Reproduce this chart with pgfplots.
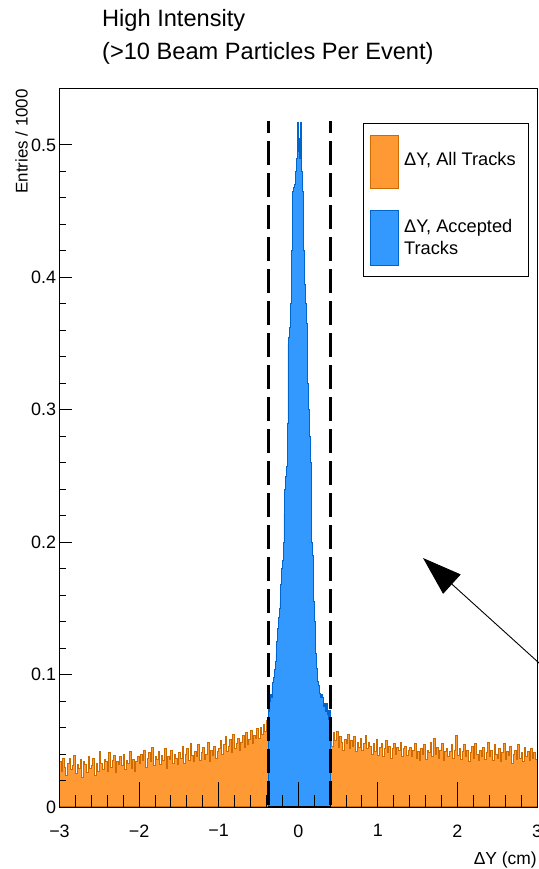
\documentclass[border=0pt]{standalone}
\usepackage{fontspec}
\setmainfont{Liberation Sans}
\usepackage{pgfplots}
\pgfplotsset{compat=1.18}
\usetikzlibrary{arrows.meta}
\definecolor{orfill}{RGB}{255,153,51}
\definecolor{orline}{RGB}{204,108,0}
\definecolor{blfill}{RGB}{51,153,255}
\definecolor{blline}{RGB}{0,102,204}
\pgfplotsset{common/.style={
  at={(59.5bp,62bp)}, anchor=south west,
  scale only axis, width=477.5bp, height=719bp,
  xmin=-3, xmax=3, ymin=0, ymax=0.543,
  tick align=inside,
  every tick/.style={black, line width=0.9bp},
  ticklabel style={font=\fontsize{18}{20}\selectfont},
  axis line style={line width=0.8bp},
}}
\begin{document}
\begin{tikzpicture}
\useasboundingbox (0,0) rectangle (539bp,869bp);
\begin{axis}[common,
  axis on top, clip=false,
  xtick pos=bottom, ytick=\empty,
  xtick={-3,-2,-1,0,1,2,3},
  xticklabels={−3,−2,−1,0,1,2,3},
  xticklabel style={yshift=-14bp},
  minor x tick num=4,
  major tick length=25bp, minor tick length=12bp,
]
\addplot[const plot, fill=orfill, draw=orline, line width=1bp] table {
-3.00 0.034
-2.98 0.027
-2.96 0.037
-2.94 0.030
-2.92 0.024
-2.90 0.033
-2.88 0.037
-2.86 0.028
-2.84 0.031
-2.82 0.039
-2.80 0.025
-2.78 0.032
-2.76 0.029
-2.74 0.036
-2.72 0.022
-2.70 0.034
-2.68 0.032
-2.66 0.026
-2.64 0.038
-2.62 0.029
-2.60 0.031
-2.58 0.037
-2.56 0.024
-2.54 0.033
-2.52 0.027
-2.50 0.042
-2.48 0.033
-2.46 0.028
-2.44 0.036
-2.42 0.034
-2.40 0.027
-2.38 0.041
-2.36 0.030
-2.34 0.035
-2.32 0.039
-2.30 0.026
-2.28 0.034
-2.26 0.032
-2.24 0.038
-2.22 0.031
-2.20 0.040
-2.18 0.028
-2.16 0.035
-2.14 0.033
-2.12 0.042
-2.10 0.029
-2.08 0.036
-2.06 0.027
-2.04 0.034
-2.02 0.038
-2.00 0.033
-1.98 0.040
-1.96 0.035
-1.94 0.043
-1.92 0.030
-1.90 0.037
-1.88 0.041
-1.86 0.034
-1.84 0.045
-1.82 0.031
-1.80 0.038
-1.78 0.036
-1.76 0.042
-1.74 0.032
-1.72 0.039
-1.70 0.035
-1.68 0.044
-1.66 0.029
-1.64 0.038
-1.62 0.036
-1.60 0.043
-1.58 0.033
-1.56 0.040
-1.54 0.037
-1.52 0.032
-1.50 0.041
-1.48 0.037
-1.46 0.046
-1.44 0.033
-1.42 0.040
-1.40 0.044
-1.38 0.035
-1.36 0.048
-1.34 0.039
-1.32 0.034
-1.30 0.042
-1.28 0.038
-1.26 0.047
-1.24 0.035
-1.22 0.041
-1.20 0.045
-1.18 0.036
-1.16 0.040
-1.14 0.049
-1.12 0.034
-1.10 0.043
-1.08 0.039
-1.06 0.046
-1.04 0.037
-1.02 0.042
-1.00 0.044
-0.98 0.050
-0.96 0.040
-0.94 0.047
-0.92 0.053
-0.90 0.042
-0.88 0.046
-0.86 0.051
-0.84 0.041
-0.82 0.055
-0.80 0.044
-0.78 0.048
-0.76 0.052
-0.74 0.043
-0.72 0.049
-0.70 0.054
-0.68 0.045
-0.66 0.056
-0.64 0.047
-0.62 0.051
-0.60 0.058
-0.58 0.048
-0.56 0.054
-0.54 0.052
-0.52 0.059
-0.50 0.052
-0.48 0.060
-0.46 0.055
-0.44 0.062
-0.42 0.057
-0.40 0.065
-0.38 0.065
} \closedcycle;
\addplot[const plot, fill=orfill, draw=orline, line width=1bp] table {
0.40 0.053
0.42 0.046
0.44 0.056
0.46 0.050
0.48 0.057
0.50 0.045
0.52 0.053
0.54 0.049
0.56 0.043
0.58 0.051
0.60 0.048
0.62 0.055
0.64 0.044
0.66 0.050
0.68 0.046
0.70 0.053
0.72 0.042
0.74 0.049
0.76 0.045
0.78 0.052
0.80 0.043
0.82 0.048
0.84 0.054
0.86 0.044
0.88 0.049
0.90 0.046
0.92 0.040
0.94 0.048
0.96 0.042
0.98 0.051
1.00 0.039
1.02 0.045
1.04 0.048
1.06 0.038
1.08 0.044
1.10 0.050
1.12 0.041
1.14 0.046
1.16 0.037
1.18 0.044
1.20 0.048
1.22 0.040
1.24 0.045
1.26 0.043
1.28 0.049
1.30 0.038
1.32 0.044
1.34 0.046
1.36 0.039
1.38 0.043
1.40 0.045
1.42 0.038
1.44 0.043
1.46 0.048
1.48 0.037
1.50 0.042
1.52 0.035
1.54 0.044
1.56 0.040
1.58 0.047
1.60 0.036
1.62 0.043
1.64 0.041
1.66 0.049
1.68 0.038
1.70 0.052
1.72 0.040
1.74 0.045
1.76 0.037
1.78 0.043
1.80 0.048
1.82 0.035
1.84 0.042
1.86 0.044
1.88 0.038
1.90 0.042
1.92 0.047
1.94 0.037
1.96 0.043
1.98 0.054
2.00 0.039
2.02 0.044
2.04 0.036
2.06 0.042
2.08 0.047
2.10 0.038
2.12 0.043
2.14 0.034
2.16 0.041
2.18 0.046
2.20 0.037
2.22 0.048
2.24 0.040
2.26 0.035
2.28 0.043
2.30 0.038
2.32 0.045
2.34 0.036
2.36 0.041
2.38 0.049
2.40 0.038
2.42 0.043
2.44 0.035
2.46 0.047
2.48 0.040
2.50 0.037
2.52 0.044
2.54 0.034
2.56 0.041
2.58 0.048
2.60 0.036
2.62 0.042
2.64 0.039
2.66 0.046
2.68 0.033
2.70 0.040
2.72 0.043
2.74 0.036
2.76 0.047
2.78 0.037
2.80 0.041
2.82 0.034
2.84 0.045
2.86 0.038
2.88 0.042
2.90 0.035
2.92 0.044
2.94 0.037
2.96 0.041
2.98 0.036
3.00 0.036
} \closedcycle;
\addplot[const plot, fill=blfill, draw=blline, line width=0.8bp] table {
-0.38 0.078
-0.37 0.072
-0.36 0.080
-0.35 0.085
-0.34 0.083
-0.33 0.090
-0.32 0.094
-0.31 0.098
-0.30 0.104
-0.29 0.110
-0.28 0.116
-0.27 0.125
-0.26 0.135
-0.25 0.143
-0.24 0.150
-0.23 0.155
-0.22 0.168
-0.21 0.180
-0.20 0.186
-0.19 0.200
-0.18 0.222
-0.17 0.240
-0.16 0.250
-0.15 0.257
-0.14 0.290
-0.13 0.350
-0.12 0.355
-0.11 0.362
-0.10 0.380
-0.09 0.390
-0.08 0.420
-0.07 0.465
-0.06 0.468
-0.05 0.470
-0.04 0.475
-0.03 0.480
-0.02 0.490
-0.01 0.517
0.00 0.495
0.01 0.505
0.02 0.490
0.03 0.517
0.04 0.480
0.05 0.465
0.06 0.430
0.07 0.420
0.08 0.395
0.09 0.380
0.10 0.365
0.11 0.350
0.12 0.320
0.13 0.300
0.14 0.280
0.15 0.260
0.16 0.210
0.17 0.200
0.18 0.190
0.19 0.155
0.20 0.140
0.21 0.125
0.22 0.116
0.23 0.105
0.24 0.095
0.25 0.092
0.26 0.090
0.27 0.086
0.28 0.083
0.29 0.085
0.30 0.083
0.31 0.080
0.32 0.076
0.33 0.078
0.34 0.072
0.35 0.078
0.36 0.070
0.37 0.073
0.38 0.066
0.39 0.073
0.40 0.073
} \closedcycle;
\draw[line width=3bp, dash pattern=on 24bp off 8bp, dash phase=12bp] (axis cs:-0.38,0.518) -- (axis cs:-0.38,0);
\draw[line width=3bp, dash pattern=on 24bp off 8bp, dash phase=12bp] (axis cs:0.40,0.518) -- (axis cs:0.40,0);
\draw[line width=1.6bp] (axis cs:-0.38,0) -- (axis cs:0.40,0);
\end{axis}
\begin{axis}[common,
  hide x axis,
  ytick pos=left,
  ytick={0,0.1,0.2,0.3,0.4,0.5},
  yticklabels={0,0.1,0.2,0.3,0.4,0.5},
  minor y tick num=4,
  major tick length=12bp, minor tick length=6bp,
]
\end{axis}
% titles and labels
\node[anchor=base west, inner sep=0pt, font=\fontsize{23.7}{28}\selectfont] at (102bp,842bp) {High Intensity};
\node[anchor=base west, inner sep=0pt, font=\fontsize{23.7}{28}\selectfont] at (102bp,809bp) {(>10 Beam Particles Per Event)};
\node[anchor=south east, rotate=90, inner sep=0pt, font=\fontsize{17}{20}\selectfont] at (28bp,780bp) {Entries / 1000};
\node[anchor=base east, inner sep=0pt, font=\fontsize{17.5}{20}\selectfont] at (537bp,5bp) {ΔY (cm)};
% legend
\draw[line width=0.8bp, fill=white] (363bp,593bp) rectangle (528bp,746bp);
\draw[fill=orfill, draw=orline, line width=0.8bp] (370bp,681bp) rectangle (398bp,734bp);
\draw[fill=blfill, draw=blline, line width=0.8bp] (370bp,604bp) rectangle (398bp,659bp);
\node[anchor=west, inner sep=0pt, font=\fontsize{18.3}{20}\selectfont] at (404bp,709bp) {ΔY, All Tracks};
\node[anchor=west, inner sep=0pt, align=left, font=\fontsize{18.3}{22}\selectfont] at (404bp,632bp) {ΔY, Accepted\\Tracks};
% arrow
\draw[line width=0.9bp, -{Triangle[length=39bp,width=26bp]}] (545bp,200.6bp) -- (423bp,311bp);
\end{tikzpicture}
\end{document}
